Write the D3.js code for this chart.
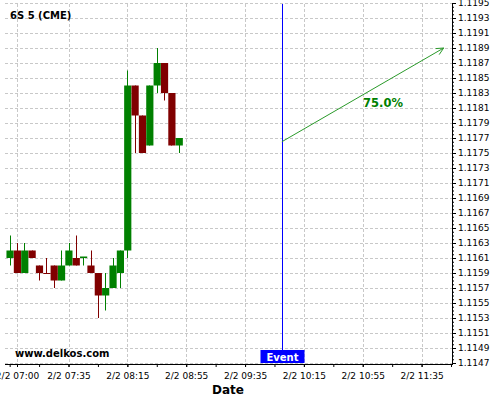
<!DOCTYPE html>
<html>
<head>
<meta charset="utf-8">
<script src="https://cdn.jsdelivr.net/npm/d3@7"></script>
<style>
  html, body { margin: 0; padding: 0; background: #fff; }
  svg { display: block; font-family: "DejaVu Sans", sans-serif; }
</style>
</head>
<body>
<svg id="chart" width="500" height="400"></svg>
<script>
// ---- data ----
const title = "6S 5 (CME)";
const times = ["06:55","07:00","07:05","07:10","07:15","07:20","07:25","07:30","07:35","07:40","07:45","07:50",
               "07:55","08:00","08:05","08:10","08:15","08:20","08:25","08:30","08:35","08:40","08:45","08:50"];
const open  = [1.1161,1.1162,1.1159,1.1162,1.1160,1.1159,1.1160,1.1158,1.1160,1.1161,1.1161,1.1160,
               1.1159,1.1156,1.1157,1.1159,1.1162,1.1184,1.1180,1.1176,1.1184,1.1187,1.1183,1.1176];
const high  = [1.1164,1.1163,1.1163,1.1162,1.1160,1.1161,1.1160,1.1162,1.1163,1.1164,1.1161,1.1162,
               1.1159,1.1159,1.1161,1.1162,1.1186,1.1184,1.1180,1.1184,1.1189,1.1187,1.1183,1.1177];
const low   = [1.1160,1.1159,1.1159,1.1161,1.1158,1.1159,1.1157,1.1158,1.1160,1.1160,1.1160,1.1159,
               1.1153,1.1154,1.1157,1.1157,1.1161,1.1175,1.1175,1.1176,1.1183,1.1182,1.1176,1.1175];
const close = [1.1162,1.1159,1.1162,1.1161,1.1159,1.1159,1.1158,1.1160,1.1162,1.1160,1.11612,1.1159,
               1.1156,1.1157,1.1160,1.1162,1.1184,1.1180,1.1175,1.1184,1.1187,1.1183,1.1176,1.1177];
const xTickLabels = ["07:00","07:35","08:15","08:55","09:35","10:15","10:55","11:35"];
const yTickValues = d3.range(0, 25).map(i => +(1.1147 + i * 0.0002).toFixed(4));
const eventTime = "10:00";
const eventLabel = "Event";
const arrowStart = { time: "10:00", value: 1.11765 };
const arrowEnd   = { time: "11:50", value: 1.1189 };
const arrowLabel = "75.0%";
const watermark = "www.delkos.com";
const xTitle = "Date";

// ---- helpers ----
const toDate = s => { const [h, m] = s.split(":").map(Number); return new Date(Date.UTC(2024, 1, 2, h, m)); };

const svg = d3.select("#chart");
const pLeft = 5, pRight = 452, pTop = 4, pBottom = 364;

const x = d3.scaleUtc()
  .domain([new Date(Date.UTC(2024,1,2,6,51,50)), new Date(Date.UTC(2024,1,2,11,55,40))])
  .range([pLeft, pRight]);
const y = d3.scaleLinear()
  .domain([1.1193 - (pBottom - 18) / 75000, 1.1193 + (18 - pTop) / 75000])
  .range([pBottom, pTop]);

// grid
const grid = svg.append("g").attr("stroke", "#c8c8c8").attr("stroke-dasharray", "3,2").attr("stroke-width", 1);
yTickValues.forEach(v => {
  const yy = Math.round(y(v)) + 0.5;
  grid.append("line").attr("x1", pLeft).attr("x2", pRight).attr("y1", yy).attr("y2", yy);
});
xTickLabels.forEach(t => {
  const xx = Math.round(x(toDate(t))) + 0.5;
  grid.append("line").attr("x1", xx).attr("x2", xx).attr("y1", pTop).attr("y2", pBottom);
});

// candles
const candles = times.map((t, i) => ({ t: toDate(t), o: open[i], h: high[i], l: low[i], c: close[i] }));
const cg = svg.append("g");
const col = d => d.c > d.o ? "#008000" : "#800000";
cg.selectAll("line.wick").data(candles).join("line")
  .attr("x1", d => Math.round(x(d.t)) + 0.5).attr("x2", d => Math.round(x(d.t)) + 0.5)
  .attr("y1", d => y(d.h)).attr("y2", d => y(d.l))
  .attr("stroke", col).attr("stroke-width", 1);
cg.selectAll("rect.body").data(candles).join("rect")
  .attr("x", d => x(d.t) - 3.2)
  .attr("width", 7.2)
  .attr("y", d => y(Math.max(d.o, d.c)))
  .attr("height", d => Math.max(1, Math.abs(y(d.o) - y(d.c))))
  .attr("fill", col);

// event line
const ex = Math.round(x(toDate(eventTime))) + 0.5;
svg.append("line").attr("x1", ex).attr("x2", ex).attr("y1", pTop).attr("y2", 350)
  .attr("stroke", "#0000ff").attr("stroke-width", 1);
svg.append("rect").attr("x", ex - 22).attr("y", 350).attr("width", 44).attr("height", 13).attr("fill", "#0000ff");
svg.append("text").attr("x", ex).attr("y", 360.5).attr("text-anchor", "middle")
  .attr("font-size", "10px").attr("font-weight", "bold").attr("fill", "#fff").text(eventLabel);

// arrow
const ax1 = x(toDate(arrowStart.time)), ay1 = y(arrowStart.value);
const ax2 = x(toDate(arrowEnd.time)), ay2 = y(arrowEnd.value);
const arrowColor = "#2a9a2a";
svg.append("line").attr("x1", ax1).attr("y1", ay1).attr("x2", ax2).attr("y2", ay2)
  .attr("stroke", arrowColor).attr("stroke-width", 1);
const ang = Math.atan2(ay2 - ay1, ax2 - ax1);
const hl = 8, ha = 0.45;
svg.append("path")
  .attr("d", `M${ax2 - hl * Math.cos(ang - ha)},${ay2 - hl * Math.sin(ang - ha)} L${ax2},${ay2} L${ax2 - hl * Math.cos(ang + ha)},${ay2 - hl * Math.sin(ang + ha)}`)
  .attr("fill", "none").attr("stroke", arrowColor).attr("stroke-width", 1);
svg.append("text").attr("x", 383).attr("y", 107).attr("text-anchor", "middle")
  .attr("font-size", "11.5px").attr("font-weight", "bold").attr("fill", "#008000").text(arrowLabel);

// right axis
const yAxis = d3.axisRight(y).tickValues(yTickValues).tickFormat(d3.format(".4f")).tickSize(4).tickPadding(2);
const ya = svg.append("g").attr("transform", `translate(${pRight},0)`).call(yAxis);
ya.select(".domain").remove();
ya.selectAll("text").attr("font-size", "9px").attr("font-family", "DejaVu Sans").attr("fill", "#000");
const yMinor = d3.range(0, 97).map(i => 1.1147 + i * 0.00005);
svg.append("g").attr("transform", `translate(${pRight},0)`)
  .call(d3.axisRight(y).tickValues(yMinor).tickSize(2).tickFormat(""))
  .select(".domain").remove();
svg.append("line").attr("x1", pRight + 0.5).attr("x2", pRight + 0.5).attr("y1", pTop).attr("y2", pBottom + 0.5)
  .attr("stroke", "#000");

// bottom axis
const fmt = d3.utcFormat("%-m/%-d %H:%M");
const xMinor = d3.range(0, 16).map(i => new Date(Date.UTC(2024,1,2,6,55) + i * 20 * 60000));
svg.append("g").attr("transform", `translate(0,${pBottom})`)
  .call(d3.axisBottom(x).tickValues(xMinor).tickSize(3).tickFormat(""))
  .select(".domain").remove();
const xa = svg.append("g").attr("transform", `translate(0,${pBottom})`)
  .call(d3.axisBottom(x).tickValues(xTickLabels.map(toDate)).tickSize(3).tickPadding(6).tickFormat(fmt));
xa.select(".domain").remove();
xa.selectAll("text").attr("font-size", "9px").attr("font-family", "DejaVu Sans").attr("fill", "#000");
svg.append("line").attr("x1", pLeft).attr("x2", pRight + 1).attr("y1", pBottom + 0.5).attr("y2", pBottom + 0.5)
  .attr("stroke", "#000");

// texts
svg.append("text").attr("x", 10).attr("y", 19).attr("font-size", "10px").attr("font-weight", "bold").text(title);
svg.append("text").attr("x", 15).attr("y", 357).attr("font-size", "10px").attr("font-weight", "bold").text(watermark);
svg.append("text").attr("x", 228).attr("y", 394).attr("text-anchor", "middle")
  .attr("font-size", "12px").attr("font-weight", "bold").text(xTitle);
</script>
</body>
</html>
